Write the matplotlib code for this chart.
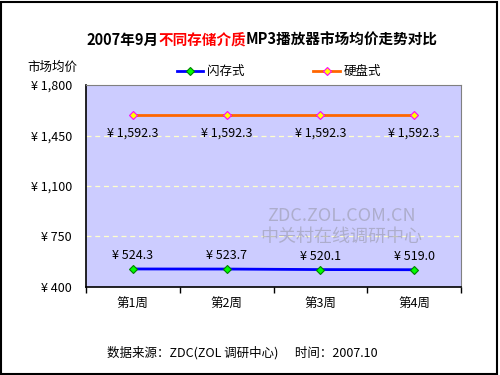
import matplotlib
matplotlib.use('Agg')
import matplotlib.pyplot as plt
from matplotlib.patches import Rectangle
from matplotlib.ticker import FuncFormatter

plt.rcParams['font.family'] = ['Noto Sans CJK SC', 'DejaVu Sans']

# datos
semanas = ['第1周', '第2周', '第3周', '第4周']
flash = [524.3, 523.7, 520.1, 519.0]
disco = [1592.3, 1592.3, 1592.3, 1592.3]
y_ticks = [400, 750, 1100, 1450, 1800]
titulo = [('2007年9月', 'black'), ('不同存储介质', 'red'), ('MP3播放器市场均价走势对比', 'black')]

fig = plt.figure(figsize=(5, 3.75), dpi=100)
fig.patch.set_facecolor('white')
fig.patches.append(Rectangle((0.002, 0.003), 0.992, 0.992, transform=fig.transFigure,
                             fill=False, edgecolor='black', linewidth=1.5))

ax = fig.add_axes([0.172, 0.235, 0.75, 0.538])
ax.set_facecolor('#CCCCFF')
x = range(len(semanas))

ax.plot(x, flash, color='#0000FF', linewidth=2, marker='D', markersize=4,
        markerfacecolor='#00FF00', markeredgecolor='#008000', markeredgewidth=0.8, label='闪存式')
ax.plot(x, disco, color='#FF6600', linewidth=2, marker='D', markersize=4,
        markerfacecolor='#FFFF00', markeredgecolor='#FF00FF', markeredgewidth=0.8, label='硬盘式')

for i in x:
    ax.annotate(f'¥ {flash[i]:,.1f}', (i, flash[i]), xytext=(0, 5), textcoords='offset points',
                ha='center', va='bottom', fontsize=9)
    ax.annotate(f'¥ {disco[i]:,.1f}', (i, disco[i]), xytext=(0, -8), textcoords='offset points',
                ha='center', va='top', fontsize=9)

ax.set_xlim(-0.5, 3.5)
ax.set_ylim(400, 1800)
ax.set_yticks(y_ticks)
ax.yaxis.set_major_formatter(FuncFormatter(lambda v, p: f'¥ {v:,.0f}'))
ax.tick_params(axis='y', length=0, labelsize=9, pad=10)
ax.set_xticks(x)
ax.set_xticklabels(semanas)
ax.set_xticks([-0.5, 0.5, 1.5, 2.5, 3.5], minor=True)
ax.tick_params(axis='x', which='major', length=0, labelsize=9, pad=8)
ax.tick_params(axis='x', which='minor', length=4, direction='out', width=1)
for v in y_ticks[1:-1]:
    ax.axhline(v, color='#FFFFCC', linestyle=(0, (4, 3)), linewidth=0.9, zorder=0.5)

for s in ['top', 'right']:
    ax.spines[s].set_color('#808080')
for s in ['left', 'bottom']:
    ax.spines[s].set_color('black')
    ax.spines[s].set_linewidth(1.2)

# marca de agua
ax.text(0.68, 0.35, 'ZDC.ZOL.COM.CN', transform=ax.transAxes, ha='center', va='center',
        fontsize=13, color='#9999AA', alpha=0.6)
ax.text(0.68, 0.25, '中关村在线调研中心', transform=ax.transAxes, ha='center', va='center',
        fontsize=13, color='#9999AA', alpha=0.6, style='italic')

fig.legend(loc='center', bbox_to_anchor=(0.558, 0.808), ncol=2, frameon=False,
           fontsize=9, handlelength=2.1, columnspacing=5.5, handletextpad=0.3)

fig.text(0.104, 0.82, '市场均价', ha='center', va='center', fontsize=9)

# titulo en tres partes, medido para que quede pegado
renderer = fig.canvas.get_renderer()
partes = [fig.text(0, 0.893, t, fontsize=10.5, fontweight='bold', va='center', color=c)
          for t, c in titulo]
anchos = [p.get_window_extent(renderer).width / fig.bbox.width for p in partes]
x0 = 0.524 - sum(anchos) / 2
for p, w in zip(partes, anchos):
    p.set_x(x0)
    x0 += w

fig.text(0.214, 0.058, '数据来源：ZDC(ZOL 调研中心)      时间：2007.10', fontsize=9, va='center')

fig.savefig('out.png', dpi=100)
